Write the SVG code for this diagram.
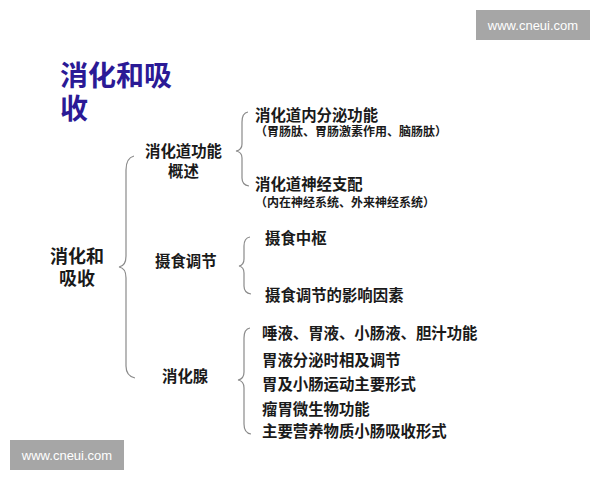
<svg xmlns="http://www.w3.org/2000/svg" width="600" height="480" viewBox="0 0 600 480">
<style>
.t{font-family:"Noto Sans CJK SC","Noto Sans",sans-serif;fill:#1a1a1a;font-weight:bold}
.m{font-size:15.4px}
.s{font-size:12px}
.r{font-size:18px}
.title{font-family:"Noto Sans CJK SC","Noto Sans",sans-serif;font-size:28px;font-weight:bold;fill:#2b1a96}
.wm{fill:#a6a6a6}
.wt{font-family:"Liberation Sans","DejaVu Sans",sans-serif;font-size:13px;fill:#ffffff;text-anchor:middle}
.b{fill:none;stroke:#8a8a8a;stroke-width:1.2}
</style>
<rect width="600" height="480" fill="#ffffff"/>
<g id="wm1"><rect class="wm" x="476" y="10" width="114" height="30"/><text class="wt" x="533" y="30">www.cneui.com</text></g>
<g id="wm2"><rect class="wm" x="10" y="440" width="114" height="30"/><text class="wt" x="67" y="460">www.cneui.com</text></g>
<g id="title"><text class="title" x="60" y="86">消化和吸</text><text class="title" x="60" y="119">收</text></g>
<g id="connectors">
<path class="b" d="M134,156 Q126,158 126,170 L126,256 Q126,266 119,267 Q126,268 126,278 L126,366 Q126,376 135,378"/>
<path class="b" d="M248,112 Q242,113 242,122 L242,144 Q242,150 236,151 Q242,152 242,158 L242,178 Q242,185 249,186"/>
<path class="b" d="M250,237 Q244,238 244,246 L244,259 Q244,265 239,266 Q244,267 244,273 L244,286 Q244,293 251,294"/>
<path class="b" d="M250,328 Q244,329 244,338 L244,372 Q244,379 238,380 Q244,381 244,388 L244,424 Q244,433 251,434"/>
</g>
<g id="root"><text class="t r" x="50" y="263">消化和</text><text class="t r" x="59" y="285">吸收</text></g>
<g id="n1"><text class="t m" x="145" y="157">消化道功能</text><text class="t m" x="168" y="177">概述</text></g>
<g id="n2"><text class="t m" x="155" y="267">摄食调节</text></g>
<g id="n3"><text class="t m" x="162" y="382">消化腺</text></g>
<g id="l1"><text class="t m" x="255" y="121">消化道内分泌功能</text><text class="t s" x="255" y="136">（胃肠肽、胃肠激素作用、脑肠肽）</text></g>
<g id="l2"><text class="t m" x="255" y="190">消化道神经支配</text><text class="t s" x="255" y="207">（内在神经系统、外来神经系统）</text></g>
<g id="l3"><text class="t m" x="265" y="244">摄食中枢</text></g>
<g id="l4"><text class="t m" x="265" y="301">摄食调节的影响因素</text></g>
<g id="l5"><text class="t m" x="262" y="339">唾液、胃液、小肠液、胆汁功能</text></g>
<g id="l6"><text class="t m" x="262" y="366">胃液分泌时相及调节</text></g>
<g id="l7"><text class="t m" x="262" y="390">胃及小肠运动主要形式</text></g>
<g id="l8"><text class="t m" x="262" y="415">瘤胃微生物功能</text></g>
<g id="l9"><text class="t m" x="262" y="437">主要营养物质小肠吸收形式</text></g>
</svg>
